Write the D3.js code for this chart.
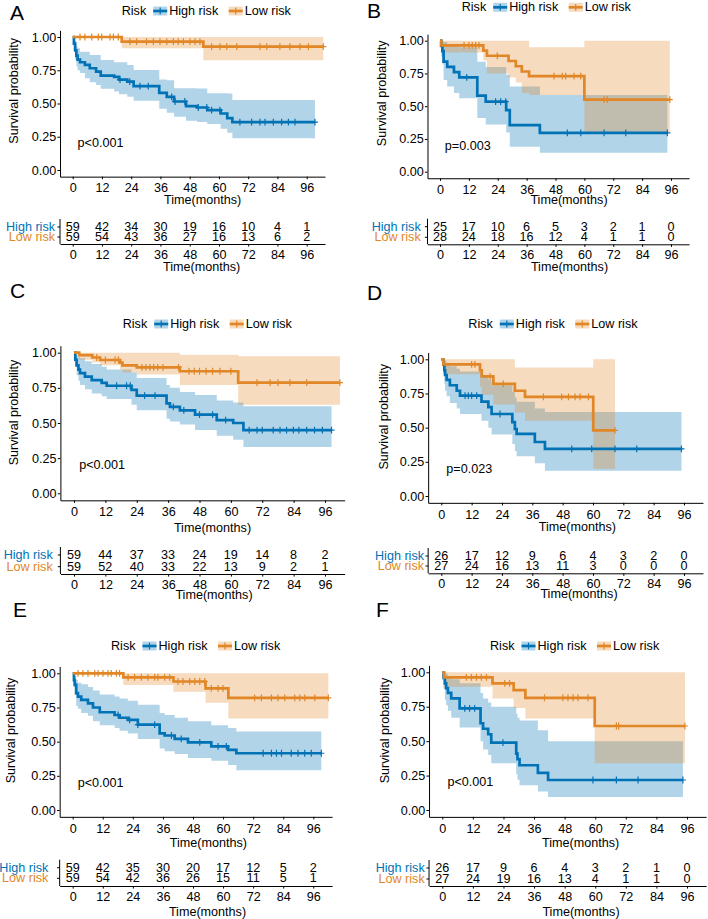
<!DOCTYPE html>
<html><head><meta charset="utf-8">
<script src="https://cdn.jsdelivr.net/npm/d3@7"></script>
<style>
body{margin:0;background:#fff;}
svg{display:block;font-family:"Liberation Sans",Arial,sans-serif;}
</style>
</head><body>
<svg id="chart" width="708" height="919"></svg>
<script>
// ---------------- DATA ----------------
const timeTicks = [0, 12, 24, 36, 48, 60, 72, 84, 96];
const survTicks = [0, 0.25, 0.5, 0.75, 1];
const groupNames = ["High risk", "Low risk"];
const legendTitle = "Risk";
const panelLetters = ["A", "B", "C", "D", "E", "F"];
const pValues = ["p<0.001", "p=0.003", "p<0.001", "p=0.023", "p<0.001", "p<0.001"];
const xTitle = "Time(months)";
const yTitle = "Survival probability";

// Panel A
const aHighTime  = [0, 0.5, 1, 1.5, 2, 3, 5, 7, 9.6, 11.5, 17, 19, 22.4, 25, 35.5, 38.6, 41.6, 46.5, 51, 55.2, 60.7, 63.4, 65.5];
const aHighSurv  = [1, 0.95, 0.90, 0.86, 0.83, 0.81, 0.79, 0.765, 0.74, 0.71, 0.70, 0.68, 0.665, 0.63, 0.58, 0.55, 0.515, 0.48, 0.47, 0.45, 0.425, 0.39, 0.36];
const aHighUpper = [1, 1, 0.97, 0.93, 0.915, 0.89, 0.89, 0.865, 0.865, 0.827, 0.81, 0.81, 0.79, 0.752, 0.68, 0.675, 0.615, 0.614, 0.612, 0.578, 0.577, 0.576, 0.526];
const aHighLower = [1, 0.90, 0.83, 0.78, 0.75, 0.73, 0.69, 0.66, 0.64, 0.61, 0.59, 0.57, 0.55, 0.52, 0.46, 0.43, 0.40, 0.37, 0.36, 0.345, 0.31, 0.28, 0.238];
const aHighCensor = [19.4, 23.4, 27.6, 31, 40.6, 42, 46, 51.5, 55, 57, 60.4, 68.6, 73.4, 76.8, 78.9, 82.3, 85.7, 88.5, 91.2, 99.4];
const aLowTime  = [0, 20.1, 53.6];
const aLowSurv  = [1, 0.965, 0.927];
const aLowUpper = [1, 1, 1];
const aLowLower = [1, 0.915, 0.825];
const aLowCensor = [3, 5, 7.8, 10.5, 11.9, 15.3, 16.7, 18.7, 23.5, 26.2, 30.3, 33.1, 35.8, 38.6, 41.3, 43.3, 45.4, 48.1, 50.2, 52.2, 57, 60.4, 63.2, 67.3, 76.8, 79.6, 85, 89.1, 93.2, 96.7, 102.8];
const aRiskHigh = [59, 42, 34, 30, 19, 16, 10, 4, 1];
const aRiskLow  = [59, 54, 43, 36, 27, 16, 13, 6, 2];

// Panel B
const bHighTime  = [0, 0.5, 1, 1.5, 3, 5.8, 8, 15.5, 19, 27.5, 29, 41.5];
const bHighSurv  = [1, 0.96, 0.92, 0.84, 0.80, 0.76, 0.72, 0.58, 0.535, 0.47, 0.356, 0.297];
const bHighUpper = [1, 1, 1, 0.99, 0.97, 0.96, 0.95, 0.84, 0.80, 0.74, 0.65, 0.585];
const bHighLower = [1, 0.88, 0.82, 0.70, 0.65, 0.60, 0.56, 0.41, 0.36, 0.30, 0.19, 0.145];
const bHighCensor = [11.1, 23.1, 25.2, 27.3, 52.9, 58.5, 68.2, 77.2, 94.5];
const bLowTime  = [0, 0.5, 18, 19.5, 28.5, 31.5, 34, 37, 60];
const bLowSurv  = [1, 0.964, 0.925, 0.885, 0.845, 0.805, 0.765, 0.73, 0.55];
const bLowUpper = [1, 1, 1, 1, 1, 1, 1, 0.95, 1];
const bLowLower = [1, 0.91, 0.85, 0.75, 0.72, 0.68, 0.60, 0.585, 0.30];
const bLowCensor = [10, 12, 13.4, 14.8, 16.2, 23.8, 47.4, 50.8, 52.2, 55.7, 58.5, 68.2, 69.5, 95.5];
const bRiskHigh = [25, 17, 10, 6, 5, 3, 2, 1, 0];
const bRiskLow  = [28, 24, 18, 16, 12, 4, 1, 1, 0];

// Panel C
const cHighTime  = [0, 0.5, 1, 1.7, 2.3, 4.2, 6.8, 10.6, 12.5, 22, 24, 35.4, 36.7, 40.5, 46.3, 54.6, 60.9, 64.8];
const cHighSurv  = [1, 0.95, 0.91, 0.88, 0.855, 0.83, 0.805, 0.785, 0.765, 0.735, 0.695, 0.64, 0.615, 0.59, 0.56, 0.52, 0.50, 0.45];
const cHighUpper = [1, 1, 0.98, 0.97, 0.96, 0.94, 0.92, 0.90, 0.88, 0.86, 0.82, 0.77, 0.75, 0.72, 0.70, 0.66, 0.645, 0.62];
const cHighLower = [1, 0.90, 0.84, 0.80, 0.77, 0.74, 0.71, 0.69, 0.67, 0.63, 0.59, 0.53, 0.51, 0.49, 0.45, 0.41, 0.38, 0.33];
const cHighCensor = [16.3, 20.1, 21.5, 27, 31, 38, 42, 48, 53, 58, 67, 70, 72, 76.2, 78.8, 81.3, 83.9, 86, 89, 92, 95, 98.5];
const cLowTime  = [0, 2, 7, 10, 17.6, 18.5, 24, 40.5, 62.8];
const cLowSurv  = [1, 0.983, 0.966, 0.948, 0.93, 0.91, 0.895, 0.868, 0.787];
const cLowUpper = [1, 1, 1, 1, 1, 1, 1, 0.985, 0.975];
const cLowLower = [1, 0.95, 0.93, 0.91, 0.88, 0.86, 0.845, 0.77, 0.63];
const cLowCensor = [8.7, 12, 15.7, 17, 26, 27.5, 29, 30.5, 32, 34, 40, 44, 46, 48, 50.5, 53, 55.8, 60, 70, 75, 78, 82.6, 89, 101.7];
const cRiskHigh = [59, 44, 37, 33, 24, 19, 14, 8, 2];
const cRiskLow  = [59, 52, 40, 33, 22, 13, 9, 2, 1];

// Panel D
const dHighTime  = [0, 0.8, 1.2, 1.5, 2.1, 3.4, 6.1, 7.4, 15.9, 18.6, 19.9, 28.1, 29.1, 29.8, 37, 41];
const dHighSurv  = [1, 0.96, 0.92, 0.885, 0.85, 0.81, 0.77, 0.735, 0.69, 0.65, 0.60, 0.54, 0.49, 0.455, 0.395, 0.345];
const dHighUpper = [1, 1, 1, 0.99, 0.97, 0.95, 0.93, 0.91, 0.88, 0.85, 0.81, 0.76, 0.72, 0.69, 0.64, 0.615];
const dHighLower = [1, 0.89, 0.82, 0.77, 0.73, 0.68, 0.64, 0.60, 0.55, 0.50, 0.45, 0.38, 0.33, 0.29, 0.24, 0.185];
const dHighCensor = [9.4, 10.7, 12, 14, 23.2, 51.6, 59.5, 68.7, 77.3, 95];
const dLowTime  = [0, 0.8, 15.3, 16, 20.6, 29.1, 33.1, 60.1];
const dLowSurv  = [1, 0.963, 0.92, 0.875, 0.82, 0.77, 0.725, 0.48];
const dLowUpper = [1, 1, 1, 1, 1, 0.94, 0.94, 1];
const dLowLower = [1, 0.89, 0.80, 0.74, 0.67, 0.61, 0.55, 0.20];
const dLowCensor = [12, 13.3, 19.3, 24.5, 40.4, 47.6, 50.3, 52.9, 54.9, 58.2, 68.7];
const dRiskHigh = [26, 17, 12, 9, 6, 4, 3, 2, 0];
const dRiskLow  = [27, 24, 16, 13, 11, 3, 0, 0, 0];

// Panel E
const eHighTime  = [0, 0.5, 0.8, 1.4, 2.1, 3.4, 6.1, 8.1, 10.8, 16.7, 18.7, 22, 26, 34.7, 36.7, 40.7, 46, 55.3, 62, 65.3];
const eHighSurv  = [1, 0.95, 0.915, 0.855, 0.83, 0.805, 0.78, 0.75, 0.715, 0.695, 0.675, 0.66, 0.625, 0.56, 0.545, 0.52, 0.495, 0.465, 0.44, 0.415];
const eHighUpper = [1, 1, 0.98, 0.95, 0.93, 0.92, 0.90, 0.875, 0.845, 0.83, 0.815, 0.80, 0.77, 0.71, 0.695, 0.675, 0.65, 0.62, 0.60, 0.575];
const eHighLower = [1, 0.90, 0.84, 0.76, 0.74, 0.71, 0.69, 0.65, 0.62, 0.60, 0.58, 0.56, 0.52, 0.45, 0.43, 0.41, 0.38, 0.36, 0.33, 0.29];
const eHighCensor = [18.1, 22.7, 26, 32.7, 39.4, 43.3, 50.7, 58, 61.3, 76, 79.3, 81.3, 83.3, 87.2, 89.9, 92.6, 95.2, 99.2];
const eLowTime  = [0, 20.2, 40.2, 53, 62.1];
const eLowSurv  = [1, 0.97, 0.94, 0.89, 0.82];
const eLowUpper = [1, 1, 1, 1, 1];
const eLowLower = [1, 0.915, 0.865, 0.785, 0.67];
const eLowCensor = [2.1, 4.1, 6.1, 8.8, 10.1, 12.1, 14.1, 15.4, 17.4, 18.7, 22.1, 24.7, 27.4, 30, 32.7, 34, 36.7, 38.7, 42, 44, 46.7, 48.7, 50.7, 52.7, 55.3, 58, 60, 72.6, 75.3, 79.3, 81.9, 84.6, 88.6, 90.6, 92.6, 96.6, 102];
const eRiskHigh = [59, 42, 35, 30, 20, 17, 12, 5, 2];
const eRiskLow  = [59, 54, 42, 36, 26, 15, 11, 5, 1];

// Panel F
const fHighTime  = [0, 0.5, 1, 1.5, 2.2, 3.5, 6.8, 15, 16, 18, 19.2, 29, 29.5, 30.3, 37.5, 41.5];
const fHighSurv  = [1, 0.96, 0.92, 0.885, 0.85, 0.81, 0.738, 0.63, 0.59, 0.55, 0.49, 0.41, 0.37, 0.325, 0.27, 0.218];
const fHighUpper = [1, 1, 1, 0.99, 0.97, 0.95, 0.92, 0.85, 0.81, 0.78, 0.75, 0.70, 0.67, 0.65, 0.58, 0.50];
const fHighLower = [1, 0.88, 0.80, 0.76, 0.72, 0.67, 0.60, 0.50, 0.44, 0.40, 0.34, 0.26, 0.22, 0.18, 0.135, 0.095];
const fHighCensor = [8.8, 10.7, 12.7, 23.8, 59.1, 68.3, 76.8, 94.4];
const fLowTime  = [0, 0.7, 19.7, 28, 32.6, 59.8];
const fLowSurv  = [1, 0.963, 0.92, 0.87, 0.815, 0.61];
const fLowUpper = [1, 1, 1, 1, 1, 1];
const fLowLower = [1, 0.895, 0.81, 0.74, 0.665, 0.34];
const fLowCensor = [9.4, 11.4, 13.4, 15.3, 17.3, 24.5, 26.4, 40.1, 47.3, 49.3, 51.3, 53.2, 57.2, 68.3, 69.2, 95.2];
const fRiskHigh = [26, 17, 9, 6, 4, 3, 2, 1, 0];
const fRiskLow  = [27, 24, 19, 16, 13, 4, 1, 1, 0];

// ---------------- ASSEMBLY ----------------
function series(time, surv, upper, lower, censor) { return {time, surv, upper, lower, censor}; }
const panelData = [
  {high: series(aHighTime, aHighSurv, aHighUpper, aHighLower, aHighCensor), low: series(aLowTime, aLowSurv, aLowUpper, aLowLower, aLowCensor), risk: [aRiskHigh, aRiskLow]},
  {high: series(bHighTime, bHighSurv, bHighUpper, bHighLower, bHighCensor), low: series(bLowTime, bLowSurv, bLowUpper, bLowLower, bLowCensor), risk: [bRiskHigh, bRiskLow]},
  {high: series(cHighTime, cHighSurv, cHighUpper, cHighLower, cHighCensor), low: series(cLowTime, cLowSurv, cLowUpper, cLowLower, cLowCensor), risk: [cRiskHigh, cRiskLow]},
  {high: series(dHighTime, dHighSurv, dHighUpper, dHighLower, dHighCensor), low: series(dLowTime, dLowSurv, dLowUpper, dLowLower, dLowCensor), risk: [dRiskHigh, dRiskLow]},
  {high: series(eHighTime, eHighSurv, eHighUpper, eHighLower, eHighCensor), low: series(eLowTime, eLowSurv, eLowUpper, eLowLower, eLowCensor), risk: [eRiskHigh, eRiskLow]},
  {high: series(fHighTime, fHighSurv, fHighUpper, fHighLower, fHighCensor), low: series(fLowTime, fLowSurv, fLowUpper, fLowLower, fLowCensor), risk: [fRiskHigh, fRiskLow]}
];

// ---------------- LAYOUT (pixels) ----------------
const layout = [
  {x0:72.7, x96:306.7, yTop:37,    yBot:170,   legY:11,    legX:121.7, letX:10,  letY:20,  ylabX:14,    ylabY:90.8,  xtX:202.7, xtY:200,
   rowH:227, rowL:237, tabAx:244, ttX:201.7, ttY:267, labR:55},
  {x0:440,  x96:671,   yTop:40.7,  yBot:171.7, legY:7.3,   legX:461.7, letX:367, letY:18,  ylabX:381.5, ylabY:93.3,  xtX:569,   xtY:200,
   rowH:226.7, rowL:237.3, tabAx:244.3, ttX:569.5, ttY:266.7, labR:420.7},
  {x0:74,   x96:325,   yTop:352.7, yBot:493.3, legY:324,   legX:122.7, letX:10,  letY:298, ylabX:14,    ylabY:412.5, xtX:212.5, xtY:528.3,
   rowH:555, rowL:566.7, tabAx:574, ttX:214, ttY:595, labR:52.7},
  {x0:441.3,x96:684,   yTop:359.3, yBot:496,   legY:324,   legX:468.3, letX:367, letY:300, ylabX:383.5, ylabY:416.7, xtX:577.3, xtY:526.7,
   rowH:556, rowL:566, tabAx:573.3, ttX:579, ttY:594, labR:424},
  {x0:72.7, x96:313.3, yTop:673.3, yBot:810,   legY:646,   legX:111,   letX:13,  letY:617, ylabX:11,    ylabY:730.5, xtX:208.3, xtY:842.7,
   rowH:867.7, rowL:878.3, tabAx:886, ttX:207.5, ttY:911.7, labR:48.3},
  {x0:442.3,x96:687,   yTop:672.3, yBot:810,   legY:646,   legX:490,   letX:376, letY:617, ylabX:384.5, ylabY:730.5, xtX:580.7, xtY:842.7,
   rowH:868, rowL:879, tabAx:886, ttX:581, ttY:912, labR:424.7}
];

const colors = ["#0072B5", "#E18727"];
const FS = 12.6;
const svg = d3.select("#chart");

function stepValue(s, key, t) {
  let v = s[key][0];
  for (let i = 0; i < s.time.length; i++) { if (s.time[i] <= t) v = s[key][i]; }
  return v;
}
function stepPoints(s) {
  const end = Math.max(d3.max(s.censor), d3.max(s.time));
  const pts = s.time.map((t, i) => ({t, s: s.surv[i], u: s.upper[i], l: s.lower[i]}));
  const last = pts[pts.length - 1];
  pts.push({t: end, s: last.s, u: last.u, l: last.l});
  return pts;
}

function styleAxis(g) {
  g.attr("font-family", null).attr("font-size", null);
  g.selectAll("path.domain").attr("stroke", "#000").attr("stroke-width", 1);
  g.selectAll(".tick line").attr("stroke", "#000").attr("stroke-width", 1);
  g.selectAll(".tick text").attr("fill", "#000").style("font-size", FS + "px");
}

panelData.forEach((pd, pi) => {
  const L = layout[pi];
  const kx = (L.x96 - L.x0) / 96;
  const x = d3.scaleLinear().domain([-5.2, 103.5]).range([L.x0 - 5.2 * kx, L.x0 + 103.5 * kx]);
  const ky = L.yBot - L.yTop;
  const y = d3.scaleLinear().domain([-0.05, 1.05]).range([L.yBot + 0.05 * ky, L.yTop - 0.05 * ky]);
  const g = svg.append("g");

  // panel letter
  g.append("text").attr("x", L.letX).attr("y", L.letY).attr("font-size", 21).attr("fill", "#000").text(panelLetters[pi]);

  // ribbons
  const groups = [pd.high, pd.low];
  const area = d3.area().curve(d3.curveStepAfter).x(d => x(d.t)).y0(d => y(d.l)).y1(d => y(d.u));
  groups.forEach((s, gi) => {
    g.append("path").attr("d", area(stepPoints(s))).attr("fill", colors[gi]).attr("fill-opacity", 0.3).attr("stroke", "none");
  });
  // lines
  const line = d3.line().curve(d3.curveStepAfter).x(d => x(d.t)).y(d => y(d.s));
  groups.forEach((s, gi) => {
    g.append("path").attr("d", line(stepPoints(s))).attr("fill", "none").attr("stroke", colors[gi]).attr("stroke-width", 2.7);
  });
  // censor marks
  groups.forEach((s, gi) => {
    s.censor.forEach(t => {
      const cx = x(t), cy = y(stepValue(s, "surv", t));
      g.append("path").attr("d", `M${cx - 3},${cy}H${cx + 3}M${cx},${cy - 3.4}V${cy + 3.4}`)
        .attr("stroke", colors[gi]).attr("stroke-width", 1.2).attr("fill", "none");
    });
  });

  // axes
  const yAxisG = g.append("g").attr("transform", `translate(${x.range()[0]},0)`)
    .call(d3.axisLeft(y).tickValues(survTicks).tickFormat(d3.format(".2f")).tickSize(2.6).tickPadding(1.2).tickSizeOuter(0));
  styleAxis(yAxisG);
  const xAxisG = g.append("g").attr("transform", `translate(0,${y.range()[0]})`)
    .call(d3.axisBottom(x).tickValues(timeTicks).tickSize(2.6).tickPadding(4.2).tickSizeOuter(0));
  styleAxis(xAxisG);

  g.append("text").attr("transform", `translate(${L.ylabX},${L.ylabY}) rotate(-90)`).attr("text-anchor", "middle")
    .attr("dominant-baseline", "central").attr("font-size", FS).attr("fill", "#000").text(yTitle);
  g.append("text").attr("x", L.xtX).attr("y", L.xtY).attr("text-anchor", "middle").attr("dominant-baseline", "central")
    .attr("font-size", FS).attr("fill", "#000").text(xTitle);

  // p value
  g.append("text").attr("x", x(2)).attr("y", y(0.2)).attr("dominant-baseline", "central")
    .attr("font-size", FS).attr("fill", "#000").text(pValues[pi]);

  // legend
  const lg = g.append("g");
  let cx = L.legX;
  const tRisk = lg.append("text").attr("x", cx).attr("y", L.legY).attr("dominant-baseline", "central").attr("font-size", FS).attr("fill", "#000").text(legendTitle);
  cx += tRisk.node().getComputedTextLength() + 7;
  groupNames.forEach((name, gi) => {
    lg.append("rect").attr("x", cx).attr("y", L.legY - 4.5).attr("width", 14).attr("height", 9)
      .attr("fill", colors[gi]).attr("fill-opacity", 0.3);
    lg.append("line").attr("x1", cx).attr("x2", cx + 14).attr("y1", L.legY).attr("y2", L.legY).attr("stroke", colors[gi]).attr("stroke-width", 2.7);
    lg.append("path").attr("d", `M${cx + 7},${L.legY - 3.4}V${L.legY + 3.4}`).attr("stroke", colors[gi]).attr("stroke-width", 1.2);
    cx += 16;
    const tt = lg.append("text").attr("x", cx).attr("y", L.legY).attr("dominant-baseline", "central").attr("font-size", FS).attr("fill", "#000").text(name);
    cx += tt.node().getComputedTextLength() + 10.5;
  });

  // risk table
  const tg = g.append("g");
  const rows = [L.rowH, L.rowL];
  const x0px = x.range()[0];
  tg.append("line").attr("x1", x0px).attr("x2", x0px).attr("y1", L.rowH - 8).attr("y2", L.tabAx).attr("stroke", "#000").attr("stroke-width", 1);
  rows.forEach((ry, ri) => {
    tg.append("line").attr("x1", x0px - 2.6).attr("x2", x0px).attr("y1", ry).attr("y2", ry).attr("stroke", "#000").attr("stroke-width", 1);
    tg.append("text").attr("x", L.labR).attr("y", ry).attr("text-anchor", "end").attr("dominant-baseline", "central")
      .attr("font-size", FS).attr("fill", colors[ri]).text(groupNames[ri]);
    pd.risk[ri].forEach((n, ti) => {
      tg.append("text").attr("x", x(timeTicks[ti])).attr("y", ry).attr("text-anchor", "middle").attr("dominant-baseline", "central")
        .attr("font-size", FS).attr("fill", "#000").text(n);
    });
  });
  const tAxisG = tg.append("g").attr("transform", `translate(0,${L.tabAx})`)
    .call(d3.axisBottom(x).tickValues(timeTicks).tickSize(2.6).tickPadding(3.4).tickSizeOuter(0));
  styleAxis(tAxisG);
  tg.append("text").attr("x", L.ttX).attr("y", L.ttY).attr("text-anchor", "middle").attr("dominant-baseline", "central")
    .attr("font-size", FS).attr("fill", "#000").text(xTitle);
});
</script>
</body></html>
